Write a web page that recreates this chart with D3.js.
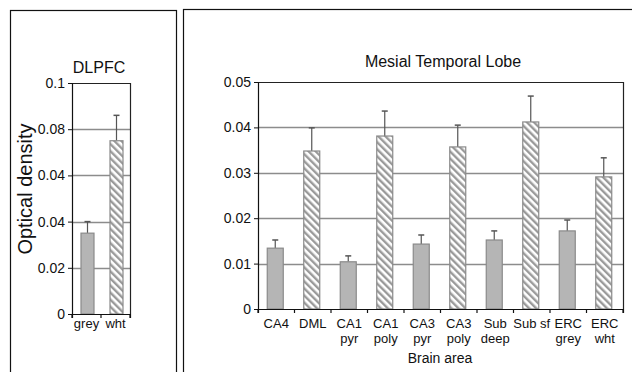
<!DOCTYPE html>
<html>
<head>
<meta charset="utf-8">
<script src="https://cdn.jsdelivr.net/npm/d3@7"></script>
<style>
  body { margin: 0; background: #fff; }
  svg { display: block; font-family: "Liberation Sans", Arial, sans-serif; }
</style>
</head>
<body>
<svg id="chart" width="632" height="372"></svg>
<script>
// DLPFC panel
const dlpfcCats = ['grey', 'wht'];
const dlpfcValues = [0.035, 0.075];
const dlpfcErr = [0.040, 0.086];
const dlpfcTicks = [0, 0.02, 0.04, 0.06, 0.08, 0.1];
const dlpfcTickLabels = ['0', '0.02', '0.04', '0.04', '0.08', '0.1'];

// Mesial temporal lobe panel
const mtlCats = ['CA4', 'DML', 'CA1 pyr', 'CA1 poly', 'CA3 pyr', 'CA3 poly', 'Sub deep', 'Sub sf', 'ERC grey', 'ERC wht'];
const mtlLabels = [['CA4'], ['DML'], ['CA1', 'pyr'], ['CA1', 'poly'], ['CA3', 'pyr'], ['CA3', 'poly'], ['Sub', 'deep'], ['Sub sf'], ['ERC', 'grey'], ['ERC', 'wht']];
const mtlValues = [0.0134, 0.0348, 0.0104, 0.0381, 0.0143, 0.0357, 0.0152, 0.0412, 0.0172, 0.0291];
const mtlErr = [0.0152, 0.0399, 0.0117, 0.0436, 0.0163, 0.0405, 0.0172, 0.0469, 0.0196, 0.0333];
const mtlKind = ['solid', 'hatch', 'solid', 'hatch', 'solid', 'hatch', 'solid', 'hatch', 'solid', 'hatch'];
const mtlTicks = [0, 0.01, 0.02, 0.03, 0.04, 0.05];

const svg = d3.select('#chart');

const defs = svg.append('defs');
const pat = defs.append('pattern')
  .attr('id', 'hatch')
  .attr('patternUnits', 'userSpaceOnUse')
  .attr('width', 5).attr('height', 5)
  .attr('patternTransform', 'rotate(-45)');
pat.append('rect').attr('width', 5).attr('height', 5).attr('fill', '#fff');
pat.append('rect').attr('width', 2.4).attr('height', 5).attr('fill', '#9a9a9a');

// panel frames
svg.append('rect').attr('x', 10.5).attr('y', 10.5).attr('width', 166).attr('height', 380)
  .attr('fill', 'none').attr('stroke', '#111').attr('stroke-width', 1.2);
svg.append('rect').attr('x', 183.5).attr('y', 9.5).attr('width', 470).attr('height', 380)
  .attr('fill', 'none').attr('stroke', '#111').attr('stroke-width', 1.2);

function panel(opts) {
  const x = d3.scaleBand().domain(opts.cats).range([opts.x0, opts.x1]).paddingInner(0).paddingOuter(0);
  const y = d3.scaleLinear().domain([0, opts.ymax]).range([opts.y0, opts.y1]);
  const g = svg.append('g');

  // gridlines
  g.selectAll('.grid').data(opts.ticks.filter(t => t > 0 && t < opts.ymax)).enter()
    .append('line')
    .attr('x1', opts.x0).attr('x2', opts.x1)
    .attr('y1', d => Math.round(y(d)) + 0.5).attr('y2', d => Math.round(y(d)) + 0.5)
    .attr('stroke', '#8c8c8c').attr('stroke-width', 1.3);

  // plot frame top and right
  g.append('path')
    .attr('d', `M${opts.x0},${opts.y1 + 0.5}H${opts.x1 + 0.5}V${opts.y0}`)
    .attr('fill', 'none').attr('stroke', '#222').attr('stroke-width', 1.2);

  const bw = opts.barW;
  // error bars
  g.selectAll('.err').data(opts.cats).enter().append('g').each(function (d, i) {
    const cx = x(d) + x.bandwidth() / 2 + opts.shift;
    const s = d3.select(this);
    s.append('line').attr('x1', cx).attr('x2', cx)
      .attr('y1', y(opts.values[i])).attr('y2', y(opts.err[i]))
      .attr('stroke', '#555').attr('stroke-width', 1.2);
    s.append('line').attr('x1', cx - 3).attr('x2', cx + 3)
      .attr('y1', y(opts.err[i])).attr('y2', y(opts.err[i]))
      .attr('stroke', '#555').attr('stroke-width', 1.5);
  });

  // bars
  g.selectAll('.bar').data(opts.cats).enter().append('rect')
    .attr('x', d => x(d) + (x.bandwidth() - bw) / 2 + opts.shift)
    .attr('y', (d, i) => y(opts.values[i]))
    .attr('width', bw)
    .attr('height', (d, i) => opts.y0 - y(opts.values[i]))
    .attr('fill', (d, i) => opts.kind[i] === 'hatch' ? 'url(#hatch)' : '#b5b5b5')
    .attr('stroke', '#8a8a8a').attr('stroke-width', 1.2);

  // y axis
  const yAxis = d3.axisLeft(y).tickValues(opts.ticks).tickSize(4)
    .tickFormat((d, i) => opts.tickLabels ? opts.tickLabels[i] : String(+d.toFixed(2)));
  const ya = g.append('g').attr('transform', `translate(${opts.x0},0)`).call(yAxis);
  ya.select('.domain').attr('stroke', '#111').attr('stroke-width', 1.2);
  ya.selectAll('.tick line').attr('stroke', '#111');
  ya.selectAll('.tick text').attr('font-size', 14).attr('fill', '#111').attr('x', -7);

  // x axis
  const xAxis = d3.axisBottom(x).tickSize(4).tickFormat('');
  const xa = g.append('g').attr('transform', `translate(0,${opts.y0})`).call(xAxis);
  xa.select('.domain').attr('stroke', '#111').attr('stroke-width', 1.2);
  xa.selectAll('.tick').remove();
  const edges = opts.cats.map(c => x(c)).concat([opts.x1]);
  xa.selectAll('.edge').data(edges).enter().append('line')
    .attr('x1', d => d).attr('x2', d => d).attr('y1', 0).attr('y2', 4)
    .attr('stroke', '#111').attr('stroke-width', 1.2);

  // category labels
  opts.labels.forEach((lines, i) => {
    const cx = x(opts.cats[i]) + x.bandwidth() / 2;
    lines.forEach((t, j) => {
      g.append('text').attr('x', cx).attr('y', opts.y0 + opts.labelDy + j * 15)
        .attr('text-anchor', 'middle').attr('font-size', 13).attr('fill', '#111').text(t);
    });
  });

  // title
  g.append('text').attr('x', opts.titleX).attr('y', opts.titleY)
    .attr('text-anchor', 'middle').attr('font-size', 16).attr('fill', '#111').text(opts.title);
  return { x, y, g };
}

panel({
  cats: dlpfcCats, labels: dlpfcCats.map(c => [c]), values: dlpfcValues, err: dlpfcErr,
  kind: ['solid', 'hatch'], ticks: dlpfcTicks, tickLabels: dlpfcTickLabels,
  x0: 72, x1: 130, y0: 314, y1: 83, ymax: 0.1, barW: 13, shift: 1, labelDy: 14,
  title: 'DLPFC', titleX: 99, titleY: 73
});

panel({
  cats: mtlCats, labels: mtlLabels, values: mtlValues, err: mtlErr,
  kind: mtlKind, ticks: mtlTicks, tickLabels: null,
  x0: 258, x1: 623, y0: 309, y1: 82, ymax: 0.05, barW: 16, shift: -1, labelDy: 19,
  title: 'Mesial Temporal Lobe', titleX: 443, titleY: 67
});

// axis titles
svg.append('text').attr('transform', 'translate(32,189) rotate(-90)')
  .attr('text-anchor', 'middle').attr('font-size', 20).attr('fill', '#111').text('Optical density');
svg.append('text').attr('x', 440).attr('y', 363)
  .attr('text-anchor', 'middle').attr('font-size', 14).attr('fill', '#111').text('Brain area');
</script>
</body>
</html>
